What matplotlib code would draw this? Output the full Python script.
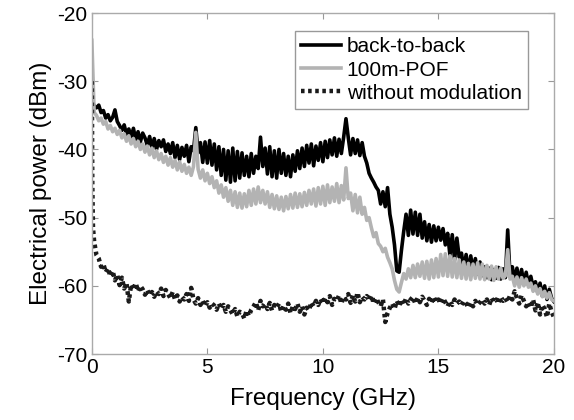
import numpy as np
import matplotlib
matplotlib.use("Agg")
import matplotlib.pyplot as plt

plt.rcParams['font.family'] = ['Liberation Sans', 'DejaVu Sans']
plt.rcParams['axes.unicode_minus'] = False

# frequency grid (GHz) for the two modulated traces
freq = np.round(np.arange(0, 20.001, 0.1), 2)

back_to_back = [
    -32.8, -33.6, -33.9, -33.5, -34.6, -34.3, -35.4, -34.9, -35.8, -35.3,
    -34.2, -35.9, -36.5, -37.2, -36.4, -37.8, -37.0, -38.2, -36.9, -38.6,
    -37.4, -38.9, -37.6, -38.3, -39.4, -38.1, -39.8, -38.4, -40.0, -38.7,
    -39.6, -38.6, -40.3, -39.2, -40.6, -39.0, -41.2, -39.4, -41.5, -39.7,
    -41.0, -39.4, -41.8, -39.6, -40.2, -36.8, -40.5, -39.0, -41.9, -38.9,
    -42.0, -38.7, -42.3, -39.2, -43.0, -39.6, -43.8, -40.0, -44.5, -40.2,
    -44.8, -39.8, -44.6, -40.3, -44.2, -40.5, -43.8, -41.0, -44.0, -40.6,
    -43.5, -41.0, -42.8, -38.2, -42.5, -39.8, -43.6, -39.6, -44.0, -40.2,
    -44.2, -40.0, -43.5, -40.6, -43.8, -41.0, -44.0, -40.8, -43.2, -40.2,
    -42.8, -39.8, -42.5, -39.4, -42.0, -39.2, -42.4, -39.5, -41.6, -39.0,
    -41.8, -38.8, -41.2, -38.6, -40.8, -38.3, -41.0, -38.5, -40.6, -38.2,
    -35.5, -38.3, -40.8, -38.4, -40.6, -38.6, -40.9, -39.0, -41.0, -42.0,
    -43.5, -44.2, -44.8, -45.5, -46.0, -48.0, -46.2, -48.4, -45.6, -49.5,
    -51.4, -54.0, -57.8, -58.0, -54.8, -52.0, -49.5, -52.6, -48.9, -52.4,
    -49.2, -52.6, -49.5, -53.0, -50.6, -53.4, -51.0, -53.6, -51.2, -53.4,
    -51.4, -53.3, -51.6, -54.0, -52.3, -55.5, -52.5, -56.2, -53.0, -55.8,
    -55.2, -57.6, -55.4, -58.1, -55.6, -57.8, -56.0, -58.3, -56.5, -58.5,
    -57.2, -58.8, -57.4, -59.1, -57.6, -58.9, -57.3, -59.0, -57.5, -58.8,
    -51.8, -58.5, -57.2, -59.2, -57.4, -59.6, -57.6, -59.8, -58.0, -59.9,
    -58.6, -60.2, -59.4, -61.0, -59.6, -61.5, -60.0, -62.0, -60.5, -61.8,
    -62.3,
]

pof_100m = [
    -24.0, -34.6, -35.0, -35.8, -35.4, -36.3, -35.9, -37.0, -36.5, -37.4,
    -36.9, -37.8, -37.2, -38.3, -37.7, -38.8, -38.0, -39.2, -38.4, -39.6,
    -38.8, -40.0, -39.2, -40.4, -39.5, -40.8, -39.8, -41.2, -40.2, -41.5,
    -40.6, -41.9, -41.0, -42.3, -41.2, -42.6, -41.6, -43.0, -41.8, -43.2,
    -42.2, -43.5, -42.6, -43.8, -42.5, -37.5, -42.9, -44.2, -43.0, -44.6,
    -43.5, -45.0, -44.0, -45.6, -44.6, -46.4, -45.2, -47.0, -45.6, -47.6,
    -46.0, -48.2, -46.2, -48.5, -46.4, -48.6, -46.5, -48.4, -46.0, -48.2,
    -45.8, -48.0, -45.5, -47.8, -46.0, -48.0, -46.2, -48.5, -46.6, -48.7,
    -46.8, -48.8, -47.0, -49.0, -46.9, -48.7, -46.6, -48.6, -46.4, -48.5,
    -46.5, -48.4, -46.3, -48.2, -46.0, -48.0, -45.8, -48.3, -45.6, -48.0,
    -45.4, -48.2, -45.2, -47.8, -45.5, -47.6, -45.0, -47.8, -45.3, -47.4,
    -42.7, -47.2, -46.4, -49.0, -46.6, -49.3, -47.0, -49.5, -48.5, -50.4,
    -50.0, -51.5, -52.8, -52.2, -53.8, -54.2, -55.0, -54.5, -55.8, -56.6,
    -57.5, -59.2, -60.5, -60.9, -59.5, -58.2, -59.0, -57.5, -58.8, -57.0,
    -58.8, -56.8, -58.6, -56.5, -58.9, -56.4, -59.0, -56.2, -58.8, -56.0,
    -58.7, -55.4, -58.5, -55.3, -58.6, -55.6, -58.7, -56.0, -58.8, -56.2,
    -58.9, -56.5, -59.0, -56.7, -59.1, -56.8, -58.9, -56.6, -59.0, -56.8,
    -59.1, -57.0, -59.0, -57.1, -59.2, -57.2, -59.0, -57.4, -58.9, -58.5,
    -54.7, -59.0, -58.6, -60.0, -58.7, -60.2, -58.8, -60.0, -59.0, -60.2,
    -59.6, -60.8, -60.0, -61.2, -60.4, -61.6, -60.8, -61.8, -61.0, -62.0,
    -62.2,
]

# frequency grid for the unmodulated trace (extra points near 0 GHz)
freq_nomod = np.concatenate([[0.0, 0.02, 0.05], np.round(np.arange(0.1, 20.001, 0.1), 2)])

without_modulation = [
    -30.0, -45.0, -51.5,
    -53.5, -55.5, -56.0, -57.2, -56.8, -58.0, -57.4, -58.6, -57.8,
    -59.2, -58.4, -59.9, -58.8, -60.4, -59.6, -62.3, -59.8, -60.6, -59.6,
    -60.8, -60.0, -60.5, -61.3, -60.6, -61.4, -60.9, -61.6, -60.8, -61.2,
    -60.4, -61.5, -60.6, -61.2, -61.8, -60.9, -62.0, -61.4, -62.3, -61.6,
    -62.0, -61.2, -62.2, -60.3, -62.0, -62.6, -61.8, -62.8, -62.2, -63.0,
    -62.4, -63.2, -62.6, -62.9, -63.5, -62.6, -63.4, -62.8, -63.8, -63.0,
    -63.6, -64.2, -63.4, -64.5, -63.8, -64.0, -64.8, -63.6, -64.4, -63.5,
    -63.0, -62.4, -63.6, -62.2, -63.0, -62.6, -63.4, -62.5, -63.6, -62.8,
    -63.2, -62.6, -63.8, -62.9, -63.5, -62.6, -64.0, -63.0, -63.4, -62.6,
    -63.8, -63.0, -64.2, -63.2, -63.6, -62.4, -63.0, -62.2, -62.8, -61.9,
    -62.6, -61.8, -62.4, -61.5, -62.8, -61.9, -62.2, -61.4, -62.6, -61.6,
    -62.0, -61.2, -62.5, -61.4, -62.3, -61.0, -62.4, -61.6, -62.0, -61.5,
    -62.2, -61.4, -62.6, -61.8, -62.4, -63.0, -62.0, -65.3, -64.0, -63.2,
    -62.6, -63.4, -62.2, -63.0, -62.0, -62.8, -61.8, -62.6, -62.0, -61.6,
    -62.6, -61.8, -62.4, -61.6, -62.2, -62.8, -61.9, -62.5, -61.6, -62.4,
    -62.0, -62.6, -61.8, -62.4, -63.0, -62.2, -62.8, -62.0, -62.6, -62.3,
    -62.8, -62.2, -62.6, -63.2, -62.4, -63.0, -62.2, -62.8, -62.4, -62.0,
    -62.6, -62.0, -62.8, -61.8, -62.4, -62.0, -62.6, -61.6, -62.2, -61.8,
    -62.4, -61.4, -62.0, -60.8, -61.8, -62.6, -61.4, -62.2, -63.0, -62.4,
    -63.2, -62.0, -63.6, -62.4, -64.2, -62.8, -63.4, -64.6, -62.6, -63.8,
    -64.6,
]

labels = ["back-to-back", "100m-POF", "without modulation"]
xticks = [0, 5, 10, 15, 20]
yticks = [-70, -60, -50, -40, -30, -20]

fig = plt.figure(figsize=(5.74, 4.2), dpi=100)
ax = fig.add_axes([0.160, 0.157, 0.805, 0.812])

ax.plot(freq, back_to_back, color='black', lw=2.6, label=labels[0])
ax.plot(freq, pof_100m, color='#b3b3b3', lw=2.6, label=labels[1])
ax.plot(freq_nomod, without_modulation, color='#1a1a1a', lw=3.2,
        linestyle=(0, (0.8, 0.8)), label=labels[2])

ax.set_xlim(0, 20)
ax.set_ylim(-70, -20)
ax.set_xticks(xticks)
ax.set_yticks(yticks)
ax.tick_params(direction='in', length=4, color='#999999', labelsize=15,
               top=True, right=True, pad=3)
for s in ax.spines.values():
    s.set_color('#aaaaaa')
    s.set_linewidth(1.0)

ax.set_xlabel("Frequency (GHz)", fontsize=17.5, labelpad=8)
ax.set_ylabel("Electrical power (dBm)", fontsize=17.5, labelpad=4)

leg = ax.legend(loc='upper right', bbox_to_anchor=(0.944, 0.947),
                borderaxespad=0, fontsize=15, handlelength=1.9,
                handletextpad=0.3, labelspacing=0.2, borderpad=0.3,
                fancybox=False, framealpha=1)
leg.get_frame().set_edgecolor('#999999')
leg.get_frame().set_linewidth(1.0)

fig.savefig("out.png", dpi=100)
